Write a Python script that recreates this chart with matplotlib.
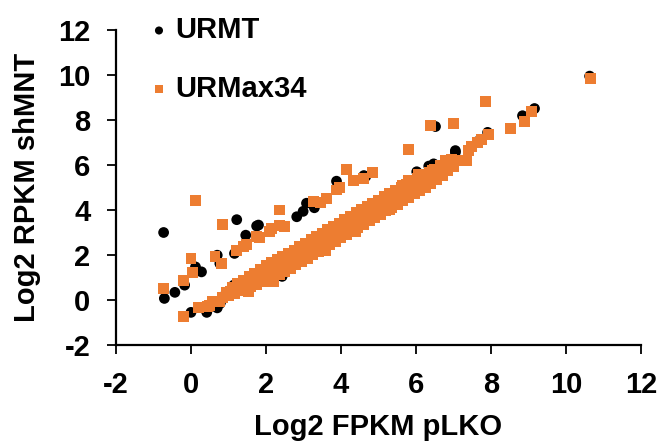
import matplotlib.pyplot as plt

plt.rcParams['font.family'] = ['Liberation Sans', 'DejaVu Sans']
plt.rcParams['font.weight'] = 'bold'
plt.rcParams['axes.unicode_minus'] = False  # 刻度用普通连字符 "-2"

# URMT (black dots)
urmt_x = [-0.73, 1.22, 10.63, 6.52, 9.16, 8.84,
          -0.71, -0.43, -0.17, 0.12, 0.28, 0.70, 0.77, 1.16, 1.46, 1.75, 1.80, 2.10, 2.45,
          2.82, 2.99, 3.08, 3.29, 3.88, 4.61, 4.66,
          0.00, 0.42, 0.70, 0.78, 0.85, 0.92, 1.00, 1.14, 1.74, 1.91, 2.43,
          6.02, 6.34, 6.47, 7.05, 7.05, 7.65, 7.91, 6.38,
          1.50, 2.00, 2.50, 3.00, 3.50, 4.00, 4.50, 5.00, 5.50, 6.00]
urmt_y = [3.00, 3.57, 9.95, 7.71, 8.51, 8.19,
          0.07, 0.34, 0.66, 1.47, 1.25, 1.99, 1.62, 2.07, 2.88, 3.29, 3.33, 3.10, 3.30,
          3.70, 3.94, 4.30, 4.10, 5.28, 5.53, 5.49,
          -0.55, -0.55, -0.35, -0.15, 0.05, 0.25, 0.40, 0.66, 1.00, 1.10, 1.05,
          5.70, 5.95, 6.05, 6.64, 6.56, 7.05, 7.45, 5.90,
          0.60, 1.10, 1.60, 2.10, 2.60, 3.10, 3.60, 4.10, 4.60, 5.10]

# URMax34 (orange squares)
urmax_x = [-0.19, 0.20, 0.43, 0.50, 0.58, 0.75, 0.85,
           # 主带上沿
           0.95, 1.10, 1.25, 1.40, 1.55, 1.70, 1.85, 2.00, 2.15, 2.30, 2.45, 2.60, 2.75,
           2.90, 3.05, 3.20, 3.35, 3.50, 3.65, 3.80, 3.95, 4.10, 4.25, 4.40, 4.55, 4.70,
           4.85, 5.00, 5.15, 5.30, 5.45, 5.60, 5.75, 5.90, 6.05, 6.20, 6.35, 6.50, 6.65,
           6.80, 6.95,
           # 主带下沿
           1.00, 1.15, 1.30, 1.45, 1.60, 1.75, 1.90, 2.05, 2.20, 2.35, 2.50, 2.65, 2.80,
           2.95, 3.10, 3.25, 3.40, 3.55, 3.70, 3.85, 4.00, 4.15, 4.30, 4.45, 4.60, 4.75,
           4.90, 5.05, 5.20, 5.35, 5.50, 5.65, 5.80, 5.95, 6.10, 6.25, 6.40, 6.55, 6.70,
           6.85, 7.00,
           # 主带中间
           1.05, 1.20, 1.35, 1.50, 1.65, 1.80, 1.95, 2.10, 2.25, 2.40, 2.55, 2.70, 2.85,
           3.00, 3.15, 3.30, 3.45, 3.60, 3.75, 3.90, 4.05, 4.20, 4.35, 4.50, 4.65, 4.80,
           4.95, 5.10, 5.25, 5.40, 5.55, 5.70, 5.85, 6.00, 6.15, 6.30, 6.45, 6.60, 6.75,
           6.90,
           1.54, 2.19, 3.60, 4.40, 5.30,
           # 上方带
           -0.74, -0.19, 0.05, 0.00, 0.64, 0.82, 1.22, 1.39, 1.47, 1.75, 1.82, 2.09, 2.15,
           2.37, 2.49, 3.26, 3.45, 3.62, 3.89, 3.95, 4.33, 4.60, 4.85,
           # 离群点
           0.12, 0.83, 2.35, 4.15, 5.80, 6.38, 7.00, 7.86, 8.51, 8.89, 9.08, 10.66,
           7.93, 7.75, 7.65, 7.48, 7.40, 7.36, 7.14, 6.78, 6.69, 6.43, 6.07, 5.81, 6.16, 5.63]
urmax_y = [-0.75, -0.32, -0.30, -0.25, -0.07, -0.05, 0.12,
           0.35, 0.55, 0.72, 0.88, 1.05, 1.20, 1.35, 1.52, 1.65, 1.80, 1.94, 2.08, 2.22,
           2.37, 2.52, 2.67, 2.82, 2.97, 3.12, 3.27, 3.42, 3.57, 3.72, 3.87, 4.02, 4.16,
           4.30, 4.44, 4.58, 4.72, 4.85, 4.98, 5.12, 5.25, 5.38, 5.52, 5.66, 5.82, 5.96,
           6.10, 6.24,
           0.20, 0.30, 0.42, 0.50, 0.60, 0.70, 0.80, 0.90, 1.00, 1.12, 1.28, 1.42, 1.56,
           1.71, 1.86, 2.01, 2.16, 2.31, 2.46, 2.61, 2.76, 2.91, 3.06, 3.21, 3.36, 3.51,
           3.66, 3.81, 3.96, 4.11, 4.26, 4.41, 4.56, 4.71, 4.86, 5.02, 5.18, 5.36, 5.55,
           5.75, 5.95,
           0.38, 0.52, 0.65, 0.78, 0.90, 1.02, 1.15, 1.28, 1.40, 1.53, 1.66, 1.80, 1.95,
           2.10, 2.25, 2.40, 2.55, 2.70, 2.85, 3.00, 3.15, 3.30, 3.45, 3.60, 3.75, 3.90,
           4.05, 4.20, 4.35, 4.50, 4.64, 4.78, 4.92, 5.06, 5.20, 5.36, 5.52, 5.68, 5.84,
           6.00,
           0.37, 0.80, 2.21, 3.05, 4.00,
           0.49, 0.88, 1.21, 1.84, 1.95, 1.62, 2.22, 2.37, 2.46, 2.81, 2.77, 3.05, 3.19,
           3.33, 3.27, 4.37, 4.35, 4.52, 4.89, 5.01, 5.33, 5.41, 5.68,
           4.42, 3.35, 4.00, 5.78, 6.69, 7.74, 7.86, 8.81, 7.64, 7.93, 8.38, 9.85,
           7.37, 7.15, 7.00, 6.81, 6.64, 6.19, 6.19, 6.19, 5.90, 5.75, 5.60, 5.31, 5.16, 5.09]

fig = plt.figure(figsize=(6.62, 4.44), dpi=100)
ax = fig.add_axes([0.1752, 0.2230, 0.7931, 0.7094])

ax.scatter(urmt_x, urmt_y, s=60, c='black', marker='o', edgecolor='none', label='URMT')
ax.scatter(urmax_x, urmax_y, s=62, c='#ED7D31', marker='s', edgecolor='none', label='URMax34')

ax.set_xlim(-2, 12)
ax.set_ylim(-2, 12)
ax.set_xticks(range(-2, 13, 2))
ax.set_yticks(range(-2, 13, 2))

for side in ['top', 'right']:
    ax.spines[side].set_visible(False)
for side in ['left', 'bottom']:
    ax.spines[side].set_linewidth(1.6)

ax.tick_params(axis='both', direction='out', length=6.5, width=1.3, labelsize=21, pad=12)

ax.set_xlabel('Log2 FPKM pLKO', fontsize=21, fontweight='bold', labelpad=10)
ax.set_ylabel('Log2 RPKM shMNT', fontsize=21, fontweight='bold', labelpad=12)

ax.legend(loc='upper left', bbox_to_anchor=(0.068, 1.044), frameon=False,
          fontsize=21, markerscale=0.75, handlelength=0.5, handletextpad=0.3,
          labelspacing=1.05, borderpad=0, borderaxespad=0)

plt.savefig('out.png', dpi=100)
